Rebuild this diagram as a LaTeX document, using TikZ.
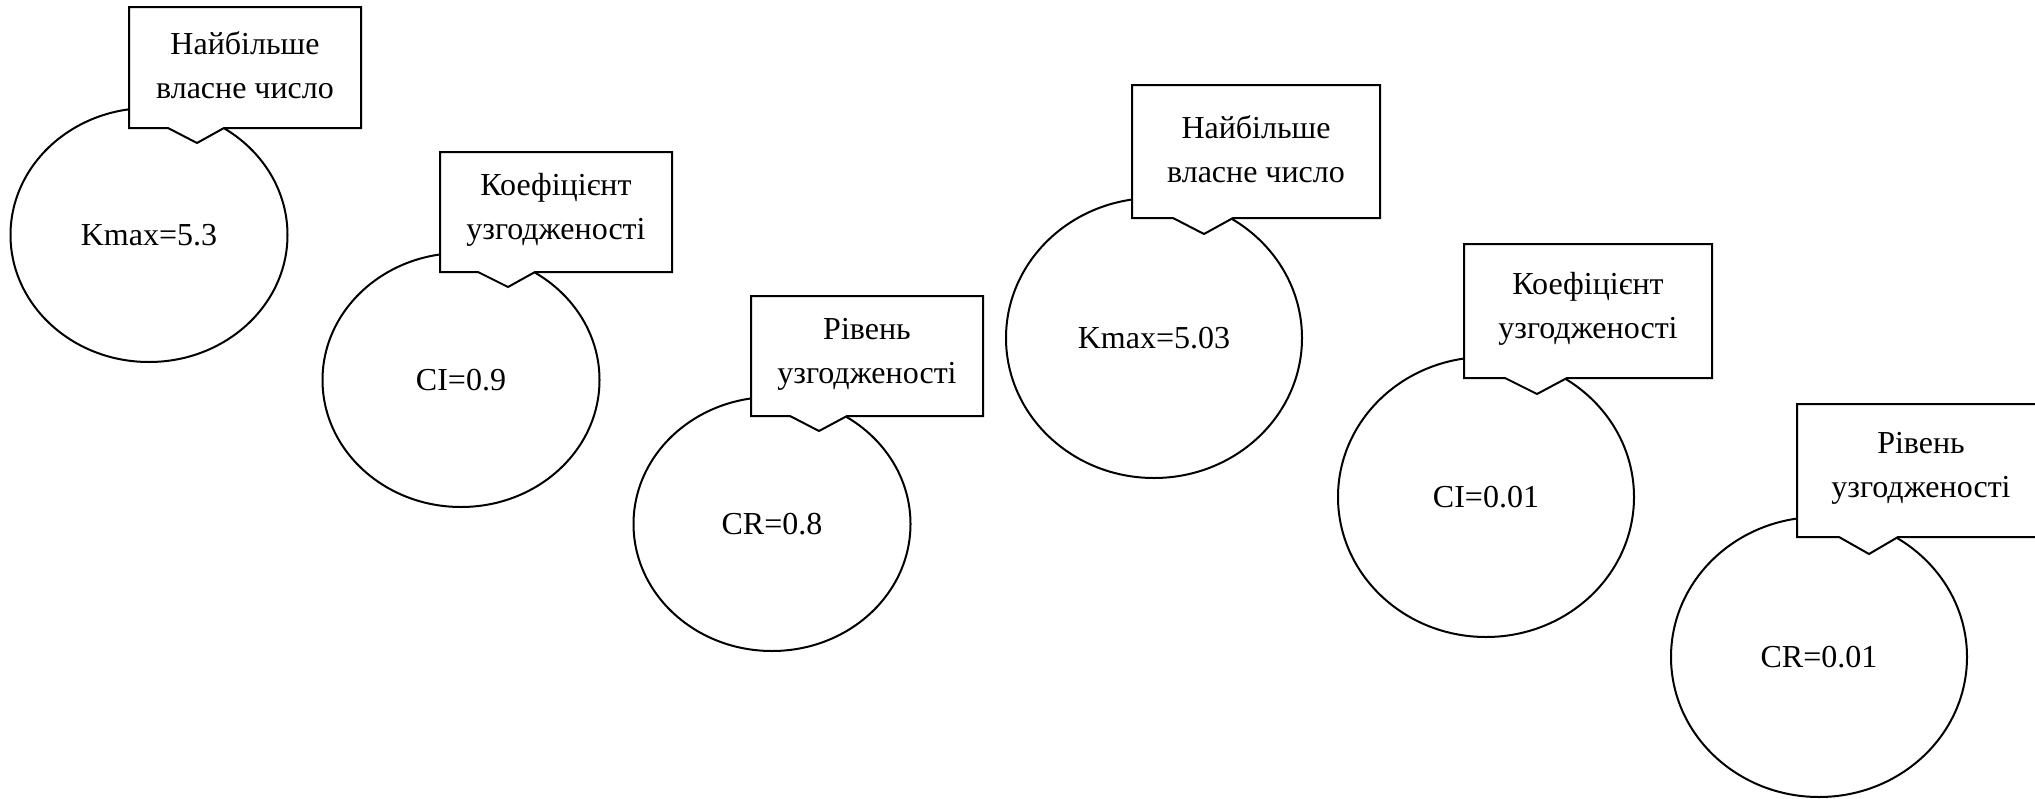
\documentclass[tikz,border=0pt]{standalone}
\usepackage{fontspec}
\setmainfont{Liberation Serif}
\usetikzlibrary{shapes.geometric}
\tikzset{
  lw/.style={line width=2pt},
  bubble/.style={ellipse, draw, lw, fill=white, inner sep=0pt, outer sep=0pt,
    font=\fontsize{32}{44}\selectfont},
  bubsmall/.style={bubble, minimum width=277pt, minimum height=254pt},
  bubbig/.style={bubble, minimum width=296pt, minimum height=280pt},
  calloutbox/.style={draw, lw, fill=white, line join=miter},
  callouttext/.style={align=center, inner sep=0pt, font=\fontsize{32}{44}\selectfont}
}
\newcommand{\mycallout}[9]{%
  % #1 name, #2 left, #3 top, #4 right, #5 bottom, #6 base1, #7 base2, #8 tipx, #9 tipy
  \coordinate (#1tip) at (#8,#9);
  \path[calloutbox] (#2,#3) -- (#4,#3) -- (#4,#5) -- (#7,#5) -- (#1tip) -- (#6,#5) -- (#2,#5) -- cycle;
  \coordinate (#1c) at ({(#2+#4)/2},{(#3+#5)/2-2});
}
\begin{document}
\begin{tikzpicture}[x=1pt,y=-1pt]
\clip (0,0) rectangle (2035,798);
\fill[white] (0,0) rectangle (2035,798);

% ellipses
\node[bubsmall] (e1) at (149,235) {Kmax=5.3};
\node[bubsmall] (e2) at (461,380) {CI=0.9};
\node[bubsmall] (e3) at (772,524) {CR=0.8};
\node[bubbig] (e4) at (1154,338) {Kmax=5.03};
\node[bubbig] (e5) at (1486,497) {CI=0.01};
\node[bubbig] (e6) at (1819,657) {CR=0.01};

% callouts
\mycallout{k1}{129}{7}{361}{128}{168}{224}{197}{143}
\node[callouttext] (t1) at (k1c) {Найбільше\\власне число};

\mycallout{k2}{440}{152}{672}{272}{478}{535}{508}{287}
\node[callouttext] (t2) at (k2c) {Коефіцієнт\\узгодженості};

\mycallout{k3}{751}{296}{983}{416}{790}{847}{819}{431}
\node[callouttext] (t3) at (k3c) {Рівень\\узгодженості};

\mycallout{k4}{1132}{85}{1380}{218}{1173}{1233}{1204}{234}
\node[callouttext] (t4) at (k4c) {Найбільше\\власне число};

\mycallout{k5}{1464}{244}{1712}{378}{1505}{1567}{1537}{394}
\node[callouttext] (t5) at (k5c) {Коефіцієнт\\узгодженості};

\mycallout{k6}{1797}{404}{2045}{537}{1839}{1898}{1869}{554}
\node[callouttext] (t6) at (k6c) {Рівень\\узгодженості};
\end{tikzpicture}
\end{document}
